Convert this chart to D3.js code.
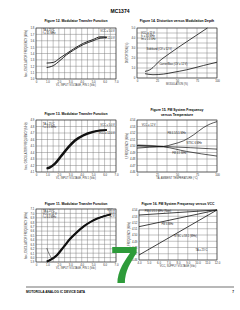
<!DOCTYPE html>
<html>
<head>
<meta charset="utf-8">
<script src="https://cdn.jsdelivr.net/npm/d3@7"></script>
<style>
  body { margin: 0; background: #fff; }
  text { font-family: "Liberation Sans", Arial, sans-serif; }
</style>
</head>
<body>
<script>
// ---- data ----
// Figure 12: modulator transfer function (two supply voltages)
var f12X = [0.93, 1.52, 2.1, 2.68, 3.27, 4.14, 5.0, 5.6, 6.2];
var f12Vcc5 = [1.25, 1.26, 1.33, 1.40, 1.47, 1.56, 1.62, 1.66, 1.66];
var f12Vcc12 = [1.18, 1.21, 1.29, 1.38, 1.45, 1.54, 1.60, 1.64, 1.65];
var f12YTicks = [1.0, 1.1, 1.2, 1.3, 1.4, 1.5, 1.6, 1.7, 1.8];

// Figure 14: distortion versus modulation depth
var f14X1 = [10, 16, 20, 26.5, 41, 62, 88];
var f14Sideband = [0.66, 0.82, 1.05, 1.58, 2.47, 3.62, 5.0];
var f14X2 = [10, 20, 33, 45, 62, 83, 100];
var f14Carrier = [0.43, 0.33, 0.39, 0.56, 0.82, 1.25, 1.58];
var f14XTicks = [0, 25, 50, 75, 100];
var f14YTicks = [0, 1, 2, 3, 4, 5];

// Figure 11 (middle left): transfer function
var f11X = [0.93, 1.2, 1.66, 2.24, 2.83, 3.41, 4.14, 5.0, 5.6, 6.2];
var f11A = [4.161, 4.176, 4.238, 4.365, 4.492, 4.594, 4.671, 4.722, 4.742, 4.747];
var f11B = [4.150, 4.163, 4.220, 4.343, 4.470, 4.576, 4.658, 4.713, 4.736, 4.744];
var f11YTicks = [4.1, 4.2, 4.3, 4.4, 4.5, 4.6, 4.7, 4.8, 4.9];

// Figure 15: FM system frequency versus temperature
var f15X = [0, 16, 33, 45, 58, 70.6, 83, 91.6, 100];
var f15Upper = [4.4967, 4.4982, 4.4992, 4.5028, 4.5079, 4.517, 4.5283, 4.5339, 4.5375];
var f15MidX = [0, 33, 100];
var f15Mid = [4.5003, 4.4992, 4.4952];
var f15LowX = [0, 33, 62, 100];
var f15Low = [4.5008, 4.4987, 4.4916, 4.4845];
var f15BandX = [0, 33];
var f15Band1 = [4.5025, 4.4995];
var f15Band2 = [4.4978, 4.4990];
var f15Band3 = [4.5015, 4.4993];
var f15XTicks = [0, 25, 50, 75, 100];
var f15YTicks = [4.46, 4.47, 4.48, 4.49, 4.50, 4.51, 4.52, 4.53, 4.54];

// Figure 17 (bottom left): transfer function
var f17X = [0.94, 1.24, 1.83, 2.42, 3.01, 3.6, 4.19, 4.78, 5.37, 5.96, 6.55];
var f17A = [5.915, 5.953, 6.065, 6.253, 6.44, 6.59, 6.718, 6.815, 6.89, 6.943, 6.98];
var f17B = [5.905, 5.94, 6.045, 6.232, 6.42, 6.572, 6.703, 6.803, 6.881, 6.936, 6.975];
var f17HookX = [0.94, 1.18, 1.39];
var f17Hook = [6.215, 6.065, 5.975];
var f17YTicks = [5.9, 6.0, 6.1, 6.2, 6.3, 6.4, 6.5, 6.6, 6.7, 6.8, 6.9, 7.0, 7.1];

// Figure 16: FM system frequency versus VCC
var f16X = [4, 12];
var f16A = [4.532, 4.54];
var f16B = [4.5133, 4.54];
var f16C = [4.468, 4.54];
var f16XTicks = [4, 5, 6, 7, 8, 9, 10, 11, 12];
var f16YTicks = [4.46, 4.47, 4.48, 4.49, 4.50, 4.51, 4.52, 4.53, 4.54];

var voltTicks = [0, 1, 2, 3, 4, 5, 6, 7];

// ---- drawing ----
var svg = d3.select("body").append("svg").attr("width", 240).attr("height", 310);

svg.append("text").attr("x", 120).attr("y", 13).attr("text-anchor", "middle")
  .attr("font-size", "5px").attr("font-weight", "bold").text("MC1374");

function panel(o) {
  var x = d3.scaleLinear().domain(o.xDom).range([o.left, o.right]);
  var y = d3.scaleLinear().domain(o.yDom).range([o.bottom, o.top]);
  var g = svg.append("g");

  // title(s)
  o.title.forEach(function(t, i) {
    g.append("text").attr("x", (o.left + o.right) / 2 + (o.titleDx || 0)).attr("y", o.titleY + i * 4.5)
      .attr("text-anchor", "middle").attr("font-size", "3.4px").attr("font-weight", "bold").text(t);
  });

  // grid
  var xg = d3.range(o.xDom[0], o.xDom[1] + 1e-9, o.xStep);
  var yg = d3.range(o.yDom[0], o.yDom[1] + 1e-9, o.yStep);
  g.selectAll(".gx").data(xg).enter().append("line")
    .attr("x1", function(d) { return x(d); }).attr("x2", function(d) { return x(d); })
    .attr("y1", o.top).attr("y2", o.bottom)
    .attr("stroke", "#777").attr("stroke-width", 0.45);
  g.selectAll(".gy").data(yg).enter().append("line")
    .attr("y1", function(d) { return y(d); }).attr("y2", function(d) { return y(d); })
    .attr("x1", o.left).attr("x2", o.right)
    .attr("stroke", "#777").attr("stroke-width", 0.45);
  g.append("rect").attr("x", o.left).attr("y", o.top)
    .attr("width", o.right - o.left).attr("height", o.bottom - o.top)
    .attr("fill", "none").attr("stroke", "#333").attr("stroke-width", 0.6);

  // axes
  var ax = d3.axisBottom(x).tickValues(o.xTicks).tickSize(0).tickPadding(1.6).tickFormat(o.xFmt);
  var gx = g.append("g").attr("transform", "translate(0," + o.bottom + ")").call(ax);
  var ay = d3.axisLeft(y).tickValues(o.yTicks).tickSize(0).tickPadding(1.6).tickFormat(o.yFmt);
  var gy = g.append("g").attr("transform", "translate(" + o.left + ",0)").call(ay);
  [gx, gy].forEach(function(a) {
    a.select(".domain").remove();
    a.selectAll("text").attr("font-size", "2.8px").attr("fill", "#333")
      .style("font-family", "'Liberation Sans', Arial, sans-serif");
  });

  g.append("text").attr("x", (o.left + o.right) / 2).attr("y", o.bottom + 7.2)
    .attr("text-anchor", "middle").attr("font-size", "2.6px").attr("fill", "#333").text(o.xTitle);
  g.append("text").attr("transform", "translate(" + (o.left - 9) + "," + ((o.top + o.bottom) / 2) + ") rotate(-90)")
    .attr("text-anchor", "middle").attr("font-size", "2.6px").attr("fill", "#333").text(o.yTitle);

  var line = d3.line().curve(d3.curveMonotoneX);
  o.series.forEach(function(s) {
    var pts = s.x.map(function(v, i) { return [x(v), y(s.y[i])]; });
    g.append("path").attr("d", line(pts)).attr("fill", "none")
      .attr("stroke", s.color || "#111").attr("stroke-width", s.w || 0.8);
  });

  (o.notes || []).forEach(function(n) {
    n.t.forEach(function(t, i) {
      g.append("text").attr("x", x(n.x)).attr("y", y(n.y) + i * 3.2)
        .attr("font-size", "2.6px").attr("fill", "#222").attr("text-anchor", n.a || "start").text(t);
    });
  });
  return { x: x, y: y };
}

var voltFmt = function(d) { return d === 0 ? "0" : d.toFixed(1); };

// Figure 12
panel({
  left: 36, right: 116, top: 28, bottom: 79, titleY: 22,
  title: ["Figure 12. Modulator Transfer Function"],
  xDom: [0, 7], yDom: [1.0, 1.8], xStep: 0.5, yStep: 0.1,
  xTicks: voltTicks, yTicks: f12YTicks, xFmt: voltFmt, yFmt: d3.format(".1f"),
  xTitle: "V1, INPUT VOLTAGE, PIN 1 (Vdc)", yTitle: "fosc, OSCILLATOR FREQUENCY (MHz)",
  series: [{ x: f12X, y: f12Vcc5, w: 0.9 }, { x: f12X, y: f12Vcc12, w: 0.9 }],
  notes: [{ x: 0.6, y: 1.76, t: ["TA = 25°C", "f = 55 MHz"] },
          { x: 6.9, y: 1.73, t: ["VCC = 5.0 V"], a: "end" },
          { x: 6.9, y: 1.62, t: ["VCC = 12.0 V"], a: "end" }]
});

// Figure 14
panel({
  left: 137, right: 217, top: 28, bottom: 78, titleY: 22,
  title: ["Figure 14. Distortion versus Modulation Depth"],
  xDom: [0, 100], yDom: [0, 5], xStep: 12.5, yStep: 0.5,
  xTicks: f14XTicks, yTicks: f14YTicks, xFmt: d3.format("d"), yFmt: function(d) { return d === 0 ? "0" : d.toFixed(1); },
  xTitle: "MODULATION (%)", yTitle: "DISTORTION (%)",
  series: [{ x: f14X1, y: f14Sideband }, { x: f14X2, y: f14Carrier }],
  notes: [{ x: 5, y: 4.45, t: ["VCC = 12 V", "fc = 55 MHz", "fm = 1.0 kHz"] },
          { x: 12, y: 2.8, t: ["Sideband (CV = 12 V)"] },
          { x: 28, y: 1.35, t: ["Carrier/Bias (CV = 12 V)"] }]
});

// Figure 11
panel({
  left: 36, right: 116, top: 120, bottom: 172, titleY: 115,
  title: ["Figure 13. Modulator Transfer Function"],
  xDom: [0, 7], yDom: [4.1, 4.9], xStep: 0.5, yStep: 0.1,
  xTicks: voltTicks, yTicks: f11YTicks, xFmt: voltFmt, yFmt: d3.format(".1f"),
  xTitle: "V1, INPUT VOLTAGE, PIN 1 (Vdc)", yTitle: "fosc, OSCILLATOR FREQUENCY (MHz)",
  series: [{ x: f11X, y: f11A, w: 1.6 }, { x: f11X, y: f11B, w: 1.6 }],
  notes: [{ x: 0.6, y: 4.83, t: ["TA = 25°C", "f = 4.5 MHz"] },
          { x: 6.9, y: 4.81, t: ["VCC = 5.0 V"], a: "end" },
          { x: 6.9, y: 4.69, t: ["VCC = 12.0 V"], a: "end" }]
});

// Figure 15
panel({
  left: 137, right: 217, top: 120, bottom: 172, titleY: 111,
  title: ["Figure 15. FM System Frequency", "versus Temperature"],
  xDom: [0, 100], yDom: [4.46, 4.54], xStep: 12.5, yStep: 0.01,
  xTicks: f15XTicks, yTicks: f15YTicks, xFmt: d3.format("d"), yFmt: d3.format(".2f"),
  xTitle: "TA, AMBIENT TEMPERATURE (°C)", yTitle: "f, FREQUENCY (MHz)",
  series: [{ x: f15BandX, y: f15Band1, color: "#888", w: 0.5 },
           { x: f15BandX, y: f15Band2, color: "#888", w: 0.5 },
           { x: f15BandX, y: f15Band3, color: "#888", w: 0.5 },
           { x: f15X, y: f15Upper, w: 0.7 }, { x: f15MidX, y: f15Mid, w: 0.7 },
           { x: f15LowX, y: f15Low, w: 0.7 }],
  notes: [{ x: 6, y: 4.531, t: ["VCC = 12 V"] },
          { x: 38, y: 4.519, t: ["FM 4.5/5.5 MHz"] },
          { x: 62, y: 4.5025, t: ["NTSC 6 MHz"] },
          { x: 44, y: 4.4875, t: ["FM 4.5 MHz"] }]
});

// Figure 17
panel({
  left: 36, right: 116, top: 209, bottom: 262, titleY: 205,
  title: ["Figure 11. Modulator Transfer Function"],
  xDom: [0, 7], yDom: [5.9, 7.1], xStep: 0.5, yStep: 0.1,
  xTicks: voltTicks, yTicks: f17YTicks, xFmt: voltFmt, yFmt: d3.format(".1f"),
  xTitle: "V1, INPUT VOLTAGE, PIN 1 (Vdc)", yTitle: "fosc, OSCILLATOR FREQUENCY (MHz)",
  series: [{ x: f17HookX, y: f17Hook, w: 0.5 },
           { x: f17X, y: f17A, w: 1.6 }, { x: f17X, y: f17B, w: 1.6 }],
  notes: [{ x: 0.6, y: 7.04, t: ["TA = 25°C", "VCC = 12 V", "f = 6.0 MHz"] },
          { x: 6.9, y: 7.06, t: ["VCC =", "5.0 V", "12 V"], a: "end" }]
});

// Figure 16
panel({
  left: 139, right: 217, top: 210, bottom: 260, titleY: 205,
  title: ["Figure 16. FM System Frequency versus VCC"],
  xDom: [4, 12], yDom: [4.46, 4.54], xStep: 1, yStep: 0.01,
  xTicks: f16XTicks, yTicks: f16YTicks, xFmt: d3.format(".1f"), yFmt: d3.format(".2f"),
  xTitle: "VCC, SUPPLY VOLTAGE (Vdc)", yTitle: "f, FREQUENCY (MHz)",
  series: [{ x: f16X, y: f16A }, { x: f16X, y: f16B }, { x: f16X, y: f16C }],
  notes: [{ x: 4.6, y: 4.537, t: ["FM 4.5/5.5 MHz (Note)"] },
          { x: 6.3, y: 4.516, t: ["FM 6 MHz"] },
          { x: 7.6, y: 4.497, t: ["NTSC = 58.1 (MHz)"] },
          { x: 9.8, y: 4.474, t: ["TA = 25°C"] }]
});

// page number sticker
svg.append("text").attr("x", 110).attr("y", 283).attr("font-size", "52px")
  .attr("font-weight", "bold").attr("fill", "#2e9b3a").text("7");

// footer
svg.append("line").attr("x1", 26).attr("x2", 234).attr("y1", 287).attr("y2", 287)
  .attr("stroke", "#111").attr("stroke-width", 0.6);
svg.append("text").attr("x", 26).attr("y", 293).attr("font-size", "3.2px")
  .attr("font-weight", "bold").text("MOTOROLA ANALOG IC DEVICE DATA");
svg.append("text").attr("x", 234).attr("y", 293).attr("font-size", "3.2px")
  .attr("font-weight", "bold").attr("text-anchor", "end").text("7");
</script>
</body>
</html>
